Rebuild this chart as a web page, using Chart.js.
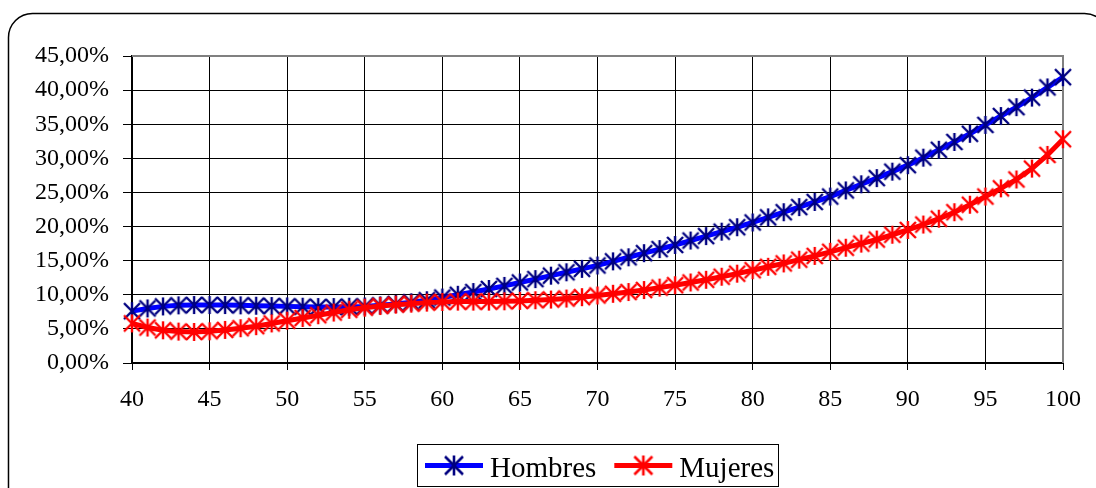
<!DOCTYPE html>
<html>
<head>
<meta charset="utf-8">
<script src="https://cdn.jsdelivr.net/npm/chart.js@4/dist/chart.umd.min.js"></script>
<style>
  html, body { margin: 0; padding: 0; background: #fff; }
  #wrap { width: 1096px; height: 488px; }
</style>
</head>
<body>
<div id="wrap"><canvas id="c" width="1096" height="488"></canvas></div>
<script>
// Ages on the horizontal axis
const ages = [];
for (let a = 40; a <= 100; a++) ages.push(a);

// Rates (%) by age
const hombres = [
  7.6, 8.0, 8.3, 8.45, 8.5, 8.5, 8.5, 8.45, 8.4, 8.35,
  8.3, 8.25, 8.2, 8.2, 8.25, 8.3, 8.45, 8.65, 8.9, 9.2,
  9.6, 10.0, 10.4, 10.85, 11.3, 11.8, 12.3, 12.8, 13.3, 13.8,
  14.3, 14.9, 15.5, 16.1, 16.7, 17.3, 17.95, 18.6, 19.25, 19.9,
  20.6, 21.35, 22.1, 22.85, 23.6, 24.4, 25.3, 26.2, 27.1, 28.05,
  29.0, 30.1, 31.25, 32.4, 33.6, 34.9, 36.2, 37.5, 38.9, 40.4,
  41.9
];
const mujeres = [
  5.8, 5.2, 4.8, 4.6, 4.55, 4.65, 4.85, 5.1, 5.4, 5.8,
  6.2, 6.6, 7.0, 7.4, 7.8, 8.1, 8.35, 8.55, 8.7, 8.85,
  8.95, 9.0, 9.0, 9.0, 9.05, 9.1, 9.2, 9.3, 9.45, 9.65,
  9.9, 10.15, 10.4, 10.7, 11.05, 11.4, 11.8, 12.2, 12.65, 13.1,
  13.6, 14.1, 14.6, 15.15, 15.7, 16.3, 16.9, 17.5, 18.1, 18.8,
  19.5, 20.3, 21.15, 22.1, 23.2, 24.4, 25.6, 26.9, 28.5, 30.5,
  32.8
];

const seriesNames = ['Hombres', 'Mujeres'];
const lineColors = ['#0000FF', '#FF0000'];
const markerColors = ['#000080', '#FF0000'];

const FONT = '"Liberation Serif", "Times New Roman", serif';

// Asterisk marker: an X with a vertical bar through it
function asterisk(color, size, lw) {
  const c = document.createElement('canvas');
  c.width = size + 4; c.height = size + 4;
  const g = c.getContext('2d');
  const m = 2, s = size;
  g.strokeStyle = color;
  g.lineWidth = lw;
  g.lineCap = 'butt';
  g.beginPath();
  g.moveTo(m, m); g.lineTo(m + s, m + s);
  g.moveTo(m + s, m); g.lineTo(m, m + s);
  g.moveTo(m + s / 2, m - 1); g.lineTo(m + s / 2, m + s + 1);
  g.stroke();
  return c;
}
const markers = markerColors.map(c => asterisk(c, 16, 2.4));
const legendMarkers = markerColors.map(c => asterisk(c, 18, 2.6));

function pts(vals) { return vals.map((v, i) => ({ x: ages[i], y: v })); }

// Rounded outer frame and plot outline
const framePlugin = {
  id: 'frame',
  beforeDraw(chart) {
    const ctx = chart.ctx;
    ctx.save();
    ctx.fillStyle = '#fff';
    ctx.fillRect(0, 0, chart.width, chart.height);
    ctx.strokeStyle = '#000';
    ctx.lineWidth = 1.5;
    ctx.beginPath();
    ctx.roundRect(8.5, 13.5, 1100, 500, 24);
    ctx.stroke();
    ctx.restore();
  },
  beforeDatasetsDraw(chart) {
    const a = chart.chartArea, ctx = chart.ctx;
    ctx.save();
    ctx.strokeStyle = '#808080';
    ctx.lineWidth = 2;
    ctx.beginPath();
    ctx.moveTo(a.left, a.top);
    ctx.lineTo(a.right, a.top);
    ctx.lineTo(a.right, a.bottom);
    ctx.stroke();
    ctx.restore();
  }
};

// Boxed legend with line-and-marker swatches
const legendPlugin = {
  id: 'boxLegend',
  afterDraw(chart) {
    const ctx = chart.ctx;
    ctx.save();
    ctx.strokeStyle = '#000';
    ctx.lineWidth = 1;
    ctx.strokeRect(417.5, 444.5, 361, 42);
    ctx.font = '29px ' + FONT;
    ctx.textBaseline = 'alphabetic';
    ctx.fillStyle = '#000';
    let x = 425;
    const y = 465.5;
    chart.data.datasets.forEach((ds, i) => {
      ctx.strokeStyle = ds.borderColor;
      ctx.lineWidth = 5;
      ctx.beginPath();
      ctx.moveTo(x, y); ctx.lineTo(x + 58, y);
      ctx.stroke();
      const img = legendMarkers[i];
      ctx.drawImage(img, x + 29 - img.width / 2, y - img.height / 2);
      ctx.fillText(ds.label, x + 65, 477);
      x += 65 + ctx.measureText(ds.label).width + 18;
    });
    ctx.restore();
  }
};

new Chart(document.getElementById('c'), {
  type: 'line',
  data: {
    datasets: [hombres, mujeres].map((vals, i) => ({
      label: seriesNames[i],
      data: pts(vals),
      borderColor: lineColors[i],
      backgroundColor: lineColors[i],
      borderWidth: 5,
      pointStyle: markers[i],
      pointRadius: 9,
      pointHoverRadius: 9,
      tension: 0,
      fill: false,
      clip: false,
      order: 2 - i
    }))
  },
  options: {
    responsive: false,
    animation: false,
    events: [],
    layout: { padding: { left: 0, top: 56, right: 30, bottom: 0 } },
    plugins: {
      legend: { display: false },
      tooltip: { enabled: false },
      title: { display: false }
    },
    scales: {
      x: {
        type: 'linear',
        min: 40, max: 100,
        afterFit(s) { s.height = 125; },
        ticks: {
          stepSize: 5,
          color: '#000',
          font: { family: FONT, size: 24 },
          padding: 15,
          maxRotation: 0,
          autoSkip: false
        },
        grid: { color: '#000', lineWidth: 1, tickLength: 7, drawTicks: true },
        border: { color: '#000', width: 2 }
      },
      y: {
        min: 0, max: 45,
        afterFit(s) { s.width = 132; },
        ticks: {
          stepSize: 5,
          color: '#000',
          font: { family: FONT, size: 24 },
          padding: 14,
          callback: v => v.toFixed(2).replace('.', ',') + '%'
        },
        grid: { color: '#000', lineWidth: 1, tickLength: 9, drawTicks: true },
        border: { color: '#000', width: 2 }
      }
    }
  },
  plugins: [framePlugin, legendPlugin]
});
</script>
</body>
</html>
